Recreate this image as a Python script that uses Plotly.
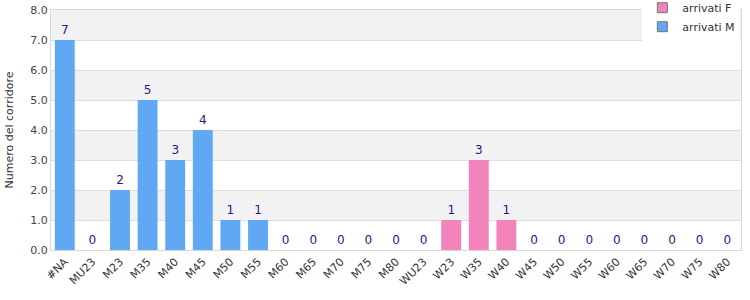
import plotly.graph_objects as go

categories = ["#NA", "MU23", "M23", "M35", "M40", "M45", "M50", "M55", "M60", "M65",
              "M70", "M75", "M80", "WU23", "W23", "W35", "W40", "W45", "W50", "W55",
              "W60", "W65", "W70", "W75", "W80"]
m_cats = categories[:14]
m_vals = [7, 0, 2, 5, 3, 4, 1, 1, 0, 0, 0, 0, 0, 0]
f_cats = categories[14:]
f_vals = [1, 3, 1, 0, 0, 0, 0, 0, 0, 0, 0]
y_ticks = [0, 1, 2, 3, 4, 5, 6, 7, 8]

BLUE = "#60a8f4"
PINK = "#f283bb"
FONT = "DejaVu Sans"
LBL = "#1c1c8a"

fig = go.Figure()
fig.add_trace(go.Bar(x=f_cats, y=f_vals, name="arrivati F", marker_color=PINK,
                     marker_line_width=0, width=0.72, showlegend=False,
                     text=[str(v) for v in f_vals], textposition="outside",
                     textfont=dict(family=FONT, size=12, color=LBL), cliponaxis=False))
fig.add_trace(go.Bar(x=m_cats, y=m_vals, name="arrivati M", marker_color=BLUE,
                     marker_line_width=0, width=0.72, showlegend=False,
                     text=[str(v) for v in m_vals], textposition="outside",
                     textfont=dict(family=FONT, size=12, color=LBL), cliponaxis=False))
for nm, col in [("arrivati F", PINK), ("arrivati M", BLUE)]:
    fig.add_trace(go.Scatter(x=[None], y=[None], mode="markers", name=nm,
                             marker=dict(symbol="square", size=10, color=col,
                                         line=dict(color="#777", width=1))))

shapes = []
for lo in range(1, 8, 2):
    shapes.append(dict(type="rect", xref="paper", yref="y", x0=0, x1=1, y0=lo, y1=lo + 1,
                       fillcolor="#f2f2f2", line_width=0, layer="below"))

fig.update_layout(
    width=750, height=300,
    margin=dict(l=51, r=9, t=10, b=50, autoexpand=False),
    paper_bgcolor="white", plot_bgcolor="white",
    barmode="overlay",
    font=dict(family=FONT, size=11, color="#444"),
    shapes=shapes,
    legend=dict(x=0.857, y=1.07, xanchor="left", yanchor="top", bgcolor="white",
                font=dict(family=FONT, size=11, color="#333"),
                tracegroupgap=0, itemwidth=30, traceorder="normal"),
    xaxis=dict(type="category", categoryorder="array", categoryarray=categories,
               tickangle=-45, tickfont=dict(size=11, color="#333"),
               showline=True, linecolor="#d8d8d8", mirror=True, ticks="",
               range=[-0.5, len(categories) - 0.5]),
    yaxis=dict(range=[0, 8], tickvals=y_ticks, tickformat=".1f",
               tickfont=dict(size=11, color="#444"),
               showgrid=True, gridcolor="#dedede", zeroline=False,
               showline=True, linecolor="#d8d8d8", mirror=True,
               title=dict(text="Numero del corridore", font=dict(size=11, color="#333"), standoff=14)),
)
fig.write_html("out.html")
